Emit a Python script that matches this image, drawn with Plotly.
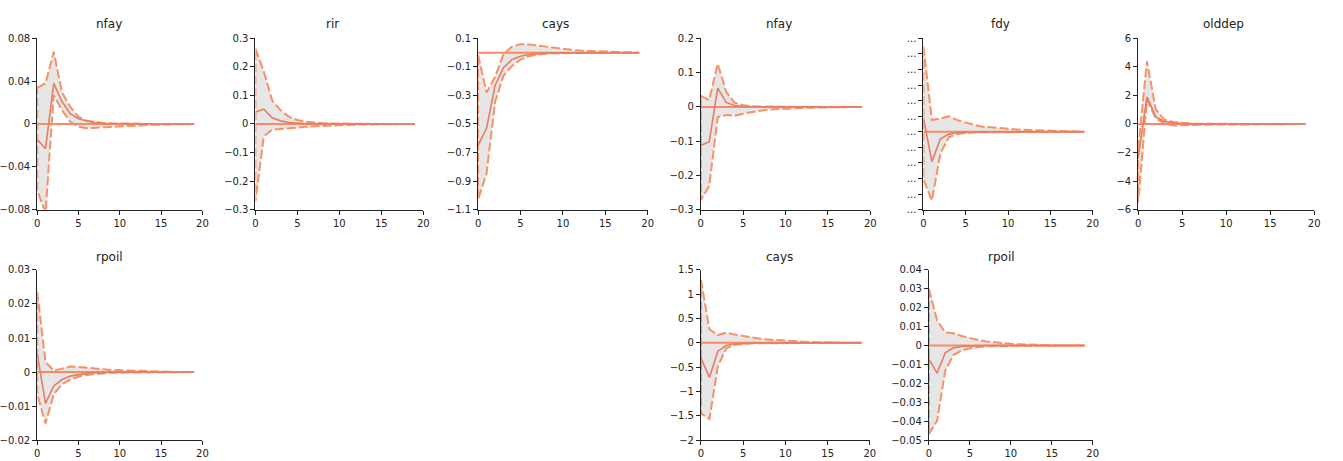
import plotly.graph_objects as go

# Forecast horizon
steps = list(range(20))

# ---- impulse responses: median, upper and lower bands ----
nfay1_mid = [-0.0146, -0.023, 0.038, 0.021, 0.0097, 0.005, 0.0028, 0.0012, 0.0005, 0.0002,
             0.0001, 0, 0, 0, 0, 0, 0, 0, 0, 0]
nfay1_up = [0.034, 0.038, 0.0675, 0.0295, 0.016, 0.0067, 0.003, 0.0018, 0.001, 0.0006,
            0.0004, 0.0003, 0.0002, 0.0001, 0.0001, 0, 0, 0, 0, 0]
nfay1_lo = [-0.062, -0.083, 0.027, 0.0128, 0.002, -0.0024, -0.004, -0.0037, -0.0032, -0.0027,
            -0.0022, -0.0018, -0.0014, -0.001, -0.0008, -0.0006, -0.0004, -0.0003, -0.0002, -0.0001]

rir_mid = [0.042, 0.052, 0.022, 0.011, 0.005, 0.002, 0.001, 0.0005, 0.0002, 0.0001,
           0, 0, 0, 0, 0, 0, 0, 0, 0, 0]
rir_up = [0.264, 0.184, 0.082, 0.048, 0.025, 0.014, 0.008, 0.005, 0.003, 0.002,
          0.0012, 0.0008, 0.0005, 0.0003, 0.0002, 0.0001, 0, 0, 0, 0]
rir_lo = [-0.27, -0.043, -0.02, -0.017, -0.015, -0.013, -0.01, -0.008, -0.006, -0.005,
          -0.004, -0.003, -0.0022, -0.0016, -0.0011, -0.0008, -0.0005, -0.0003, -0.0002, -0.0001]

cays1_mid = [-0.65, -0.53, -0.23, -0.105, -0.048, -0.025, -0.013, -0.006, -0.003, -0.0015,
             -0.0007, -0.0003, -0.0001, 0, 0, 0, 0, 0, 0, 0]
cays1_up = [-0.014, -0.28, -0.17, -0.01, 0.043, 0.06, 0.058, 0.05, 0.04, 0.032,
            0.025, 0.02, 0.015, 0.012, 0.009, 0.007, 0.005, 0.004, 0.003, 0.002]
cays1_lo = [-1.03, -0.845, -0.345, -0.16, -0.093, -0.048, -0.025, -0.013, -0.007, -0.004,
            -0.002, -0.001, -0.0005, -0.0002, 0, 0, 0, 0, 0, 0]

nfay2_mid = [-0.113, -0.102, 0.055, 0.013, 0.004, 0.001, 0.0004, 0.0001, 0, 0,
             0, 0, 0, 0, 0, 0, 0, 0, 0, 0]
nfay2_up = [0.032, 0.02, 0.126, 0.044, 0.012, 0.005, 0.002, 0.001, 0.0005, 0.0002,
            0.0001, 0, 0, 0, 0, 0, 0, 0, 0, 0]
nfay2_lo = [-0.272, -0.232, -0.03, -0.024, -0.026, -0.02, -0.015, -0.011, -0.008, -0.006,
            -0.005, -0.004, -0.003, -0.0022, -0.0017, -0.0012, -0.0009, -0.0006, -0.0004, -0.0003]

fdy_mid = [0.9, -1.92, -0.46, -0.15, -0.06, -0.03, -0.01, -0.005, -0.002, 0,
           0, 0, 0, 0, 0, 0, 0, 0, 0, 0]
fdy_up = [5.48, 0.75, 0.85, 1.0, 0.75, 0.58, 0.44, 0.33, 0.27, 0.23,
          0.19, 0.15, 0.12, 0.1, 0.08, 0.06, 0.05, 0.04, 0.03, 0.03]
fdy_lo = [-3.06, -4.42, -1.4, -0.35, -0.15, -0.08, -0.04, -0.02, -0.01, -0.005,
          0, 0, 0, 0, 0, 0, 0, 0, 0, 0]

olddep_mid = [-2.4, 1.9, 0.5, 0.18, 0.07, 0.02, 0.01, 0, 0, 0,
              0, 0, 0, 0, 0, 0, 0, 0, 0, 0]
olddep_up = [-1.75, 4.4, 1.02, 0.3, 0.14, 0.07, 0.03, 0.015, 0.007, 0.003,
             0.001, 0, 0, 0, 0, 0, 0, 0, 0, 0]
olddep_lo = [-5.5, 1.7, 0.41, 0.02, -0.11, -0.09, -0.07, -0.05, -0.03, -0.02,
             -0.01, -0.005, 0, 0, 0, 0, 0, 0, 0, 0]

rpoil1_mid = [0.0054, -0.0092, -0.0041, -0.0022, -0.0012, -0.0007, -0.0004, -0.0002, -0.0001, 0,
              0, 0, 0, 0, 0, 0, 0, 0, 0, 0]
rpoil1_up = [0.0236, 0.003, 0.0004, 0.0011, 0.0016, 0.0015, 0.0012, 0.001, 0.0008, 0.0006,
             0.0005, 0.0004, 0.0003, 0.0002, 0.0001, 0.0001, 0, 0, 0, 0]
rpoil1_lo = [-0.0065, -0.0151, -0.0065, -0.0036, -0.0022, -0.0014, -0.0009, -0.0006, -0.0004, -0.0002,
             -0.0001, 0, 0, 0, 0, 0, 0, 0, 0, 0]

cays2_mid = [-0.31, -0.71, -0.17, -0.054, -0.02, -0.01, -0.004, -0.002, 0, 0,
             0, 0, 0, 0, 0, 0, 0, 0, 0, 0]
cays2_up = [1.3, 0.28, 0.16, 0.21, 0.17, 0.14, 0.11, 0.087, 0.067, 0.054,
            0.04, 0.03, 0.022, 0.016, 0.012, 0.009, 0.007, 0.005, 0.004, 0.003]
cays2_lo = [-1.45, -1.57, -0.48, -0.11, -0.04, -0.02, -0.01, -0.005, -0.002, 0,
            0, 0, 0, 0, 0, 0, 0, 0, 0, 0]

rpoil2_mid = [-0.0072, -0.0146, -0.0038, -0.0012, -0.0005, -0.0002, -0.0001, 0, 0, 0,
              0, 0, 0, 0, 0, 0, 0, 0, 0, 0]
rpoil2_up = [0.030, 0.0134, 0.0069, 0.0065, 0.0051, 0.0039, 0.0029, 0.0022, 0.0017, 0.0012,
             0.0009, 0.0007, 0.0005, 0.0004, 0.0003, 0.0002, 0.0001, 0.0001, 0, 0]
rpoil2_lo = [-0.0467, -0.0398, -0.0132, -0.005, -0.0026, -0.0014, -0.0007, -0.0004, -0.0002, -0.0001,
             0, 0, 0, 0, 0, 0, 0, 0, 0, 0]

titles = ["nfay", "rir", "cays", "nfay", "fdy", "olddep", "rpoil", "cays", "rpoil"]

# y axis ranges and tick spacing per panel
y_ranges = [[-0.08, 0.08], [-0.3, 0.3], [-1.1, 0.1], [-0.3, 0.2], [-5, 6],
            [-6, 6], [-0.02, 0.03], [-2, 1.5], [-0.05, 0.04]]
y_dticks = [0.04, 0.1, 0.2, 0.1, 1, 2, 0.01, 0.5, 0.01]
y_tick0 = [0, 0, 0.1, 0, 0, 0, 0, 0, 0]

panels = [
    (nfay1_mid, nfay1_up, nfay1_lo),
    (rir_mid, rir_up, rir_lo),
    (cays1_mid, cays1_up, cays1_lo),
    (nfay2_mid, nfay2_up, nfay2_lo),
    (fdy_mid, fdy_up, fdy_lo),
    (olddep_mid, olddep_up, olddep_lo),
    (rpoil1_mid, rpoil1_up, rpoil1_lo),
    (cays2_mid, cays2_up, cays2_lo),
    (rpoil2_mid, rpoil2_up, rpoil2_lo),
]

# ---- page geometry (pixels) ----
W, H = 1343, 461
x_spans = [(32.5, 199), (252.5, 421.7), (477, 648), (701.5, 872.5), (926, 1096.7),
           (1142.5, 1320), (32.5, 199), (701.7, 872), (931.5, 1096.7)]
y_spans = [(33.3, 209)] * 6 + [(271, 445.7)] * 3
title_xy = [(105, 18), (330, 18), (555, 18), (780, 18), (1004, 18), (1229, 18),
            (105, 257.7), (780.7, 257.7), (1005, 257.7)]

BAND = "rgb(247,145,105)"
MID = "rgb(229,126,98)"
ZERO = "rgb(247,140,100)"
FILL = "rgba(200,200,200,0.45)"
FONT = "DejaVu Sans"

fig = go.Figure()
layout_axes = {}
annotations = []

for i, (mid, up, lo) in enumerate(panels):
    n = i + 1
    xa = "x" if n == 1 else f"x{n}"
    ya = "y" if n == 1 else f"y{n}"

    # confidence band as one closed outline: upper forward, lower backward
    band_x = steps + steps[::-1] + [steps[0]]
    band_y = up + lo[::-1] + [up[0]]
    fig.add_trace(go.Scatter(x=band_x, y=band_y, xaxis=xa, yaxis=ya, mode="lines",
                             line=dict(color=BAND, width=2, dash="9px,3px"),
                             fill="toself", fillcolor=FILL,
                             showlegend=False, hoverinfo="skip"))
    fig.add_trace(go.Scatter(x=steps, y=[0] * len(steps), xaxis=xa, yaxis=ya, mode="lines",
                             line=dict(color=ZERO, width=2),
                             showlegend=False, hoverinfo="skip"))
    fig.add_trace(go.Scatter(x=steps, y=mid, xaxis=xa, yaxis=ya, mode="lines",
                             line=dict(color=MID, width=1.6),
                             showlegend=False))

    x0, x1 = x_spans[i]
    y0, y1 = y_spans[i]
    common = dict(showline=True, linecolor="#222", linewidth=1, ticks="outside",
                  ticklen=4, tickcolor="#222", showgrid=False, zeroline=False,
                  tickfont=dict(family=FONT, size=10, color="#222"))
    layout_axes["xaxis" if n == 1 else f"xaxis{n}"] = dict(
        domain=[x0 / W, x1 / W], anchor=ya, range=[0, 20], tick0=0, dtick=5, **common)
    yax = dict(domain=[1 - y1 / H, 1 - y0 / H], anchor=xa, range=y_ranges[i],
               tick0=y_tick0[i], dtick=y_dticks[i], **common)
    if titles[i] == "fdy":
        vals = list(range(y_ranges[i][0], y_ranges[i][1] + 1))
        yax.update(tickmode="array", tickvals=vals, ticktext=["..."] * len(vals))
    layout_axes["yaxis" if n == 1 else f"yaxis{n}"] = yax

    tx, ty = title_xy[i]
    annotations.append(dict(text=titles[i], x=tx / W, y=1 - ty / H, xref="paper", yref="paper",
                            xanchor="center", yanchor="middle", showarrow=False,
                            font=dict(family=FONT, size=12, color="#222")))

fig.update_layout(width=W, height=H, margin=dict(l=0, r=0, t=0, b=0),
                  paper_bgcolor="white", plot_bgcolor="white",
                  annotations=annotations, **layout_axes)

fig.write_html("out.html")
